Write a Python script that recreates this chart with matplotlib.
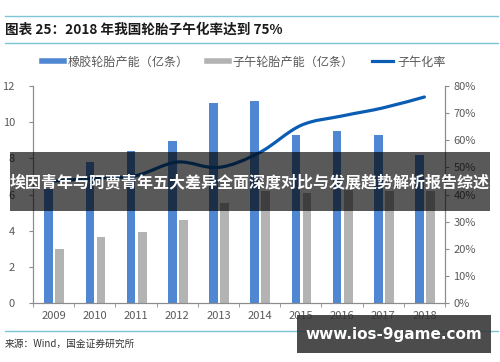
import matplotlib
matplotlib.use('Agg')
import matplotlib.pyplot as plt
import matplotlib.patches as mpatches
from matplotlib.path import Path
from matplotlib.lines import Line2D
import numpy as np

plt.rcParams['font.family'] = ['Noto Sans CJK SC', 'DejaVu Sans']

years = ['2009', '2010', '2011', '2012', '2013', '2014', '2015', '2016', '2017', '2018']
rubber_tire = [6.3, 7.8, 8.4, 8.95, 11.05, 11.2, 9.3, 9.5, 9.27, 8.17]
radial_tire = [3.0, 3.65, 3.94, 4.6, 5.55, 6.2, 6.1, 6.25, 6.2, 6.2]
radial_rate = [0.45, 0.46, 0.47, 0.52, 0.50, 0.555, 0.655, 0.69, 0.72, 0.76]

labels = ['橡胶轮胎产能（亿条）', '子午轮胎产能（亿条）', '子午化率']
blue = '#4f87d2'
gray = '#b3b3b3'
line_blue = '#0b5db3'
tick_gray = '#595959'
axis_gray = '#8c8c8c'

fig = plt.figure(figsize=(5, 3.62), dpi=100)
ax = fig.add_axes([0.066, 0.163, 0.824, 0.599])
ax2 = ax.twinx()

x = np.arange(len(years))
w = 0.21
ax.bar(x - 0.12, rubber_tire, w, color=blue, zorder=2)
ax.bar(x + 0.15, radial_tire, w, color=gray, zorder=2)

# smoothed line (Catmull-Rom through the data points, like Excel's smooth line)
pts = np.column_stack([x, radial_rate])
verts = [tuple(pts[0])]
codes = [Path.MOVETO]
for i in range(len(pts) - 1):
    p0 = pts[i - 1] if i > 0 else pts[i]
    p1 = pts[i]
    p2 = pts[i + 1]
    p3 = pts[i + 2] if i + 2 < len(pts) else pts[i + 1]
    c1 = p1 + (p2 - p0) / 6.0
    c2 = p2 - (p3 - p1) / 6.0
    verts += [tuple(c1), tuple(c2), tuple(p2)]
    codes += [Path.CURVE4] * 3
ax2.add_patch(mpatches.PathPatch(Path(verts, codes), fill=False, edgecolor=line_blue,
                                 lw=2.3, capstyle='round', zorder=3))

ax.set_xlim(-0.5, len(years) - 0.5)
ax.set_ylim(0, 12)
ax2.set_ylim(0, 0.8)
ax.set_yticks(range(0, 13, 2))
ax2.set_yticks(np.arange(0, 0.81, 0.1))
ax2.set_yticklabels(['{}%'.format(int(round(v * 100))) for v in np.arange(0, 0.81, 0.1)])

ax.set_xticks(x)
ax.set_xticklabels(years)
ax.set_xticks(np.arange(-0.5, len(years), 1), minor=True)
ax.tick_params(axis='x', which='major', length=0, pad=6, labelsize=8, labelcolor=tick_gray)
ax.tick_params(axis='x', which='minor', length=3, color=axis_gray, direction='out')
ax.tick_params(axis='y', length=3, color=axis_gray, labelsize=8, labelcolor=tick_gray, pad=10)
ax2.tick_params(axis='y', length=3, color=axis_gray, labelsize=8, labelcolor=tick_gray, pad=3)

for a in (ax, ax2):
    a.spines['top'].set_visible(False)
    for s in ('left', 'right', 'bottom'):
        a.spines[s].set_color(axis_gray)
        a.spines[s].set_linewidth(0.8)

# legend
handles = [Line2D([0], [0], color=blue, lw=4),
           Line2D([0], [0], color=gray, lw=4),
           Line2D([0], [0], color=line_blue, lw=2.3)]
fig.legend(handles, labels, loc='center', bbox_to_anchor=(0.488, 1 - 62 / 362), ncol=3,
           frameon=False, fontsize=8.7, labelcolor=tick_gray, handlelength=1.8,
           handletextpad=0.35, columnspacing=1.45)

# title block
fig.add_artist(Line2D([0.01, 0.995], [1 - 16 / 362] * 2, color='#7cc4d6', lw=1.0))
fig.add_artist(Line2D([0.01, 0.995], [1 - 43 / 362] * 2, color='#7cc4d6', lw=1.0))
fig.text(0.01, 1 - 30 / 362, '图表 25：2018 年我国轮胎子午化率达到 75%', fontsize=9.8,
         fontweight='bold', color='#1a1a1a', va='center')

# source
fig.add_artist(Line2D([0.01, 0.995], [1 - 331 / 362] * 2, color='#7cc4d6', lw=1.0))
fig.text(0.01, 1 - 344 / 362, '来源：Wind，国金证券研究所', fontsize=7, color='#333333', va='center')

# overlay band
fig.add_artist(mpatches.Rectangle((10 / 500, 1 - 211 / 362), 480 / 500, 59 / 362,
                                  transform=fig.transFigure, color='black', alpha=0.65,
                                  lw=0, zorder=10))
fig.text(0.5, 1 - 182 / 362, '埃因青年与阿贾青年五大差异全面深度对比与发展趋势解析报告综述',
         fontsize=11.5, fontweight='bold', color='white', ha='center', va='center', zorder=11)

# watermark box
fig.add_artist(mpatches.Rectangle((297 / 500, 1 - 353 / 362), 194 / 500, 38 / 362,
                                  transform=fig.transFigure, color='#333333', alpha=0.88,
                                  lw=0, zorder=10))
fig.text(394 / 500, 1 - 334 / 362, 'www.ios-9game.com', fontsize=11, fontweight='bold',
         color='white', ha='center', va='center', zorder=11, family='DejaVu Sans')

fig.savefig('out.png', dpi=100)
